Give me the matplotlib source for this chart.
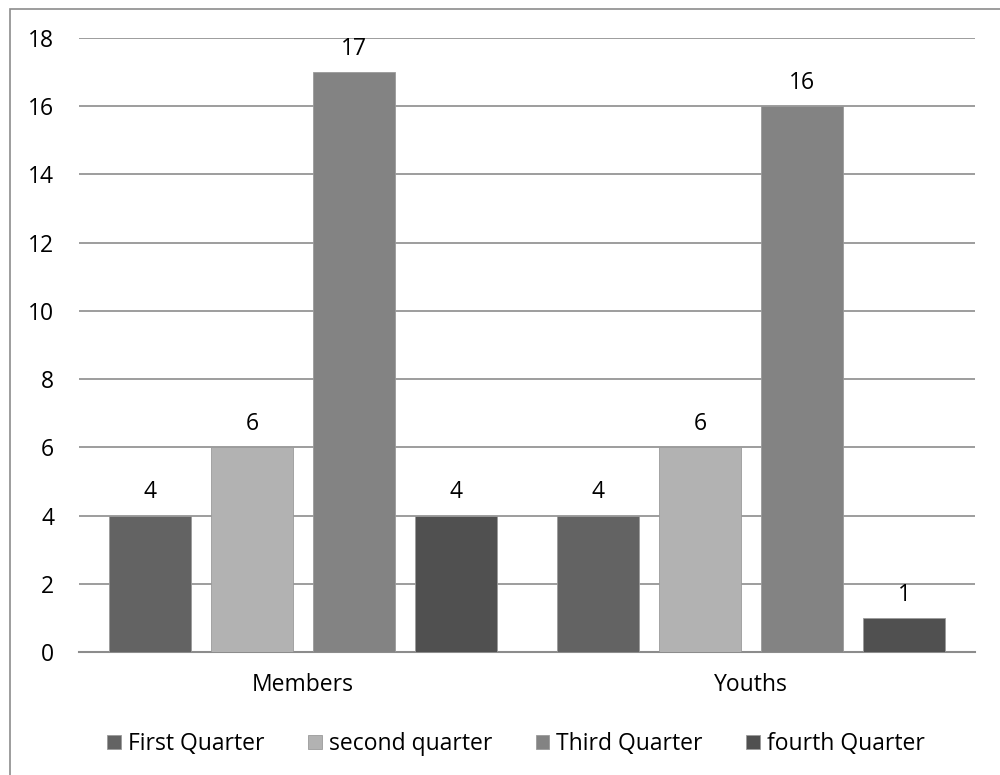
import matplotlib
matplotlib.use("Agg")
import matplotlib.pyplot as plt
from matplotlib.patches import Rectangle
import numpy as np

plt.rcParams['font.family'] = ['Open Sans', 'DejaVu Sans']

categories = ["Members", "Youths"]
series_names = ["First Quarter", "second quarter", "Third Quarter", "fourth Quarter"]
first_quarter = [4, 4]
second_quarter = [6, 6]
third_quarter = [17, 16]
fourth_quarter = [4, 1]
y_ticks = [0, 2, 4, 6, 8, 10, 12, 14, 16, 18]

series = [first_quarter, second_quarter, third_quarter, fourth_quarter]
colors = ["#636363", "#b2b2b2", "#838383", "#505050"]
FS = 16.5

fig = plt.figure(figsize=(10, 7.75), dpi=100)
ax = fig.add_axes([0.079, 0.1587, 0.896, 0.7923])

# outer chart frame (left and top edges visible)
fig.patches.append(Rectangle((0.010, -0.1), 1.2, 0.9885 + 0.1, transform=fig.transFigure,
                             fill=False, edgecolor="#8c8c8c", linewidth=1.2, zorder=0))

x = np.arange(len(categories))
width = 0.182
step = 0.228
offsets = (np.arange(len(series)) - 1.5) * step

for i, (name, vals) in enumerate(zip(series_names, series)):
    bars = ax.bar(x + offsets[i], vals, width, color=colors[i], label=name,
                  edgecolor="#9a9a9a", linewidth=0.6, zorder=3)
    for b, v in zip(bars, vals):
        ax.text(b.get_x() + b.get_width() / 2, v + 0.68, f"{v}", ha="center",
                va="center", fontsize=FS, color="black")

ax.set_xlim(-0.5, 1.5)
ax.set_ylim(0, 18)
ax.set_yticks(y_ticks)
ax.set_xticks(x)
ax.set_xticklabels(categories, fontsize=FS)
ax.tick_params(axis='y', labelsize=FS, length=0, pad=18)
ax.tick_params(axis='x', length=0, pad=15)
ax.yaxis.grid(True, color="#8c8c8c", linewidth=1.2, zorder=0)
ax.set_axisbelow(True)
for side in ["left", "right", "top"]:
    ax.spines[side].set_visible(False)
ax.spines["bottom"].set_color("#8c8c8c")
ax.spines["bottom"].set_linewidth(1.5)

fig.legend(loc="center", bbox_to_anchor=(0.516, 0.040), ncol=4, frameon=False,
           fontsize=FS, handlelength=0.6, handleheight=0.6, handletextpad=0.3,
           columnspacing=1.9)

fig.savefig("out.png", dpi=100)
